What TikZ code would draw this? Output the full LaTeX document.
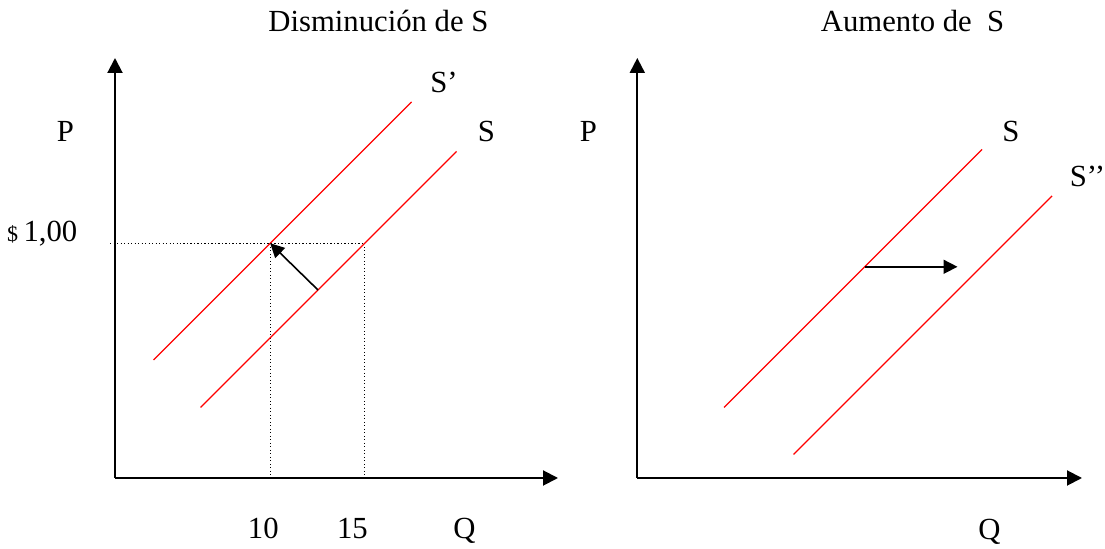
\documentclass[tikz,border=0pt]{standalone}
\usepackage{fontspec}
\setmainfont{Liberation Serif}
\usepackage{tikz}
\usetikzlibrary{arrows.meta}

\begin{document}
\begin{tikzpicture}[
  x=0.5pt, y=-0.5pt,
  axis/.style={-{Triangle[length=7.5pt,width=7.5pt]}, line width=1pt},
  supply/.style={red, line width=0.7pt},
  guide/.style={line width=0.6pt, dash pattern=on 0.6pt off 1.15pt},
  move/.style={-{Triangle[length=7pt,width=7pt]}, line width=0.8pt},
  lbl/.style={inner sep=0pt, anchor=base west, font=\fontsize{15.35}{18}\selectfont}
]
\useasboundingbox (0,0) rectangle (1105,549);
% left panel
\node[lbl] (tdis) at (268,31.5) {Disminución de S};
\coordinate (o1) at (115,478);
\coordinate (p1) at (115,58);
\coordinate (q1) at (558,478);
\coordinate (spa) at (153.5,360);
\coordinate (spb) at (411.5,102);
\coordinate (sa) at (200.5,407.5);
\coordinate (sb) at (456.5,151.5);
\coordinate (e1) at (270.2,243.3);
\coordinate (e2) at (364.7,243.3);
\coordinate (d0) at (110,243.3);
\coordinate (m1) at (318,290);
\draw[guide] (d0) -- (e2);
\draw[guide] (e1) -- (e1 |- o1);
\draw[guide] (e2) -- (e2 |- o1);
\draw[axis] (o1) -- (p1);
\draw[axis] (o1) -- (q1);
\draw[supply] (spa) -- (spb);
\draw[supply] (sa) -- (sb);
\draw[move] (m1) -- (e1);
\node[lbl] (lp1) at (56.5,142) {P};
\node[lbl, anchor=base east] (lprice) at (77.7,242) {{\fontsize{11}{13}\selectfont\$ }1,00};
\node[lbl] (lsp) at (430,93) {S’};
\node[lbl] (ls1) at (477.5,142) {S};
\node[lbl] (l10) at (247.5,539) {10};
\node[lbl] (l15) at (336.6,539) {15};
\node[lbl] (lq1) at (453,539) {Q};
% right panel
\node[lbl] (taum) at (820.5,31.5) {Aumento de\ \ S};
\coordinate (o2) at (637.3,478);
\coordinate (p2) at (637.3,58);
\coordinate (q2) at (1082,478);
\coordinate (ra) at (724,407.5);
\coordinate (rb) at (982,149.5);
\coordinate (rra) at (793.5,454.5);
\coordinate (rrb) at (1052,196);
\coordinate (m2) at (864.7,266.8);
\coordinate (n2) at (957.5,266.8);
\draw[axis] (o2) -- (p2);
\draw[axis] (o2) -- (q2);
\draw[supply] (ra) -- (rb);
\draw[supply] (rra) -- (rrb);
\draw[move] (m2) -- (n2);
\node[lbl] (lp2) at (579.5,142) {P};
\node[lbl] (ls2) at (1002,142) {S};
\node[lbl] (lspp) at (1069.5,186.3) {S’’};
\node[lbl] (lq2) at (978,539.2) {Q};
\end{tikzpicture}
\end{document}
